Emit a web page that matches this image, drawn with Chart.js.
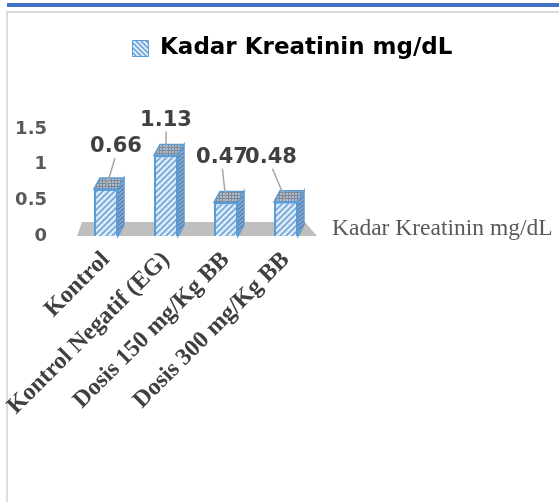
<!DOCTYPE html>
<html>
<head>
<meta charset="utf-8">
<script src="https://cdn.jsdelivr.net/npm/chart.js@4.4.1/dist/chart.umd.min.js"></script>
<style>
  body { margin: 0; background: #fff; }
  #bar { position: absolute; left: 7px; top: 3px; width: 552px; height: 4px; background: #4472c4; }
  #card { position: absolute; left: 6px; top: 11px; right: 0; bottom: 0; border-top: 2px solid #dcdcdc; border-left: 2px solid #dcdcdc; }
  canvas { position: absolute; left: 0; top: 0; }
</style>
</head>
<body>
<div id="bar"></div>
<div id="card"></div>
<canvas id="myChart" width="559" height="502"></canvas>
<script>
const categories = ['Kontrol', 'Kontrol Negatif (EG)', 'Dosis 150 mg/Kg BB', 'Dosis 300 mg/Kg BB'];
const kreatinin = [0.66, 1.13, 0.47, 0.48];
const yTicks = [0, 0.5, 1, 1.5];
const seriesName = 'Kadar Kreatinin mg/dL';

// where each value label sits, relative to the top of its bar
const labelShift = [[10, -42], [0, -35], [-4, -45], [-15, -44]];

function hatch(bg, fg, size, kind, lw) {
  const c = document.createElement('canvas');
  c.width = c.height = size;
  const g = c.getContext('2d');
  g.fillStyle = bg;
  g.fillRect(0, 0, size, size);
  g.strokeStyle = fg;
  g.lineWidth = lw;
  g.beginPath();
  if (kind === 'up') {
    g.moveTo(0, size); g.lineTo(size, 0);
    g.moveTo(-2, 2); g.lineTo(2, -2);
    g.moveTo(size - 2, size + 2); g.lineTo(size + 2, size - 2);
  } else if (kind === 'down') {
    g.moveTo(0, 0); g.lineTo(size, size);
    g.moveTo(size - 2, -2); g.lineTo(size + 2, 2);
    g.moveTo(-2, size - 2); g.lineTo(2, size + 2);
  } else {
    g.moveTo(0, 0.5); g.lineTo(size, 0.5);
    g.moveTo(0.5, 0); g.lineTo(0.5, size);
  }
  g.stroke();
  return g.createPattern(c, 'repeat');
}

const blue = '#5b9bd5';
const frontFill = hatch('#deebf7', '#6fa6da', 6, 'up', 1.6);
const topFill = hatch('#aebccb', '#7c8897', 3, 'grid', 1);
const sideFill = hatch('#8fb0d3', '#587ca6', 4, 'up', 1.3);
const iconFill = hatch('#deebf7', '#5b9bd5', 5, 'down', 1.3);

const dx = 6, dy = 11;

const bar3d = {
  id: 'bar3d',
  beforeDatasetsDraw(chart) {
    const {ctx, chartArea: a} = chart;
    const y0 = chart.scales.y.getPixelForValue(0);
    ctx.save();
    ctx.fillStyle = '#bfbfbf';
    ctx.beginPath();
    ctx.moveTo(a.left + 1, y0);
    ctx.lineTo(a.right + 1, y0);
    ctx.lineTo(a.right - 11, y0 - 14);
    ctx.lineTo(a.left + 6, y0 - 14);
    ctx.closePath();
    ctx.fill();

    ctx.strokeStyle = blue;
    ctx.lineWidth = 1.5;
    chart.getDatasetMeta(0).data.forEach(el => {
      const p = el.getProps(['x', 'y', 'base', 'width'], true);
      const l = p.x - p.width / 2, r = p.x + p.width / 2;
      ctx.fillStyle = sideFill;
      ctx.beginPath();
      ctx.moveTo(r, p.y); ctx.lineTo(r + dx, p.y - dy);
      ctx.lineTo(r + dx, p.base - dy); ctx.lineTo(r, p.base);
      ctx.closePath(); ctx.fill(); ctx.stroke();
      ctx.fillStyle = topFill;
      ctx.beginPath();
      ctx.moveTo(l, p.y); ctx.lineTo(l + dx, p.y - dy);
      ctx.lineTo(r + dx, p.y - dy); ctx.lineTo(r, p.y);
      ctx.closePath(); ctx.fill(); ctx.stroke();
    });
    ctx.restore();
  },
  afterDatasetsDraw(chart) {
    const {ctx} = chart;
    ctx.save();
    chart.getDatasetMeta(0).data.forEach((el, i) => {
      const p = el.getProps(['x', 'y'], true);
      const lx = p.x + labelShift[i][0], ly = p.y + labelShift[i][1];
      ctx.strokeStyle = '#a6a6a6';
      ctx.lineWidth = 1.5;
      ctx.beginPath();
      ctx.moveTo(lx + (p.x - lx) * 0.1, ly + 11);
      ctx.lineTo(p.x, p.y - 1);
      ctx.stroke();
      ctx.fillStyle = '#404040';
      ctx.font = 'bold 21px "DejaVu Sans"';
      ctx.textAlign = 'center';
      ctx.textBaseline = 'middle';
      ctx.fillText(kreatinin[i], lx, ly);
    });
    const y0 = chart.scales.y.getPixelForValue(0);
    ctx.fillStyle = '#595959';
    ctx.font = '23.5px "Liberation Serif"';
    ctx.textAlign = 'left';
    ctx.textBaseline = 'alphabetic';
    ctx.fillText(seriesName, chart.chartArea.right + 16, y0 - 1);
    ctx.restore();
  }
};

new Chart(document.getElementById('myChart'), {
  type: 'bar',
  data: {
    labels: categories,
    datasets: [{
      label: seriesName,
      data: kreatinin,
      backgroundColor: frontFill,
      borderColor: blue,
      borderWidth: 2,
      barPercentage: 0.4,
      categoryPercentage: 1
    }]
  },
  options: {
    responsive: false,
    animation: false,
    devicePixelRatio: 1,
    layout: { padding: { top: 27, left: 0, right: -26, bottom: 0 } },
    plugins: {
      legend: {
        position: 'top',
        labels: {
          boxWidth: 16,
          boxHeight: 16,
          padding: 10,
          color: '#595959',
          font: { family: 'DejaVu Sans', size: 23, weight: 'bold' },
          generateLabels: () => [{
            text: seriesName, fillStyle: iconFill, strokeStyle: blue, lineWidth: 1, datasetIndex: 0
          }]
        }
      },
      title: {
        display: true,
        text: '',
        weight: 500,
        font: { size: 10 },
        padding: { top: 47, bottom: 0 }
      },
      tooltip: { enabled: false }
    },
    scales: {
      x: {
        grid: { display: false, drawTicks: false },
        border: { display: false },
        ticks: {
          autoSkip: false,
          minRotation: 45,
          maxRotation: 45,
          padding: 10,
          color: '#404040',
          font: { family: 'Liberation Serif', size: 24, weight: 'bold' }
        },
        afterFit: s => { s.height = 266; }
      },
      y: {
        min: 0,
        max: 1.5,
        grid: { display: false, drawTicks: false },
        border: { display: false },
        ticks: {
          padding: 29,
          color: '#595959',
          font: { family: 'DejaVu Sans', size: 18, weight: 'bold' },
          callback: v => String(v)
        },
        afterBuildTicks: s => { s.ticks = yTicks.map(v => ({ value: v })); },
        afterFit: s => { s.width = 76; }
      },
      y2: {
        position: 'right',
        grid: { display: false, drawTicks: false },
        border: { display: false },
        ticks: { display: false },
        afterFit: s => { s.width = 269; }
      }
    }
  },
  plugins: [bar3d]
});
</script>
</body>
</html>
